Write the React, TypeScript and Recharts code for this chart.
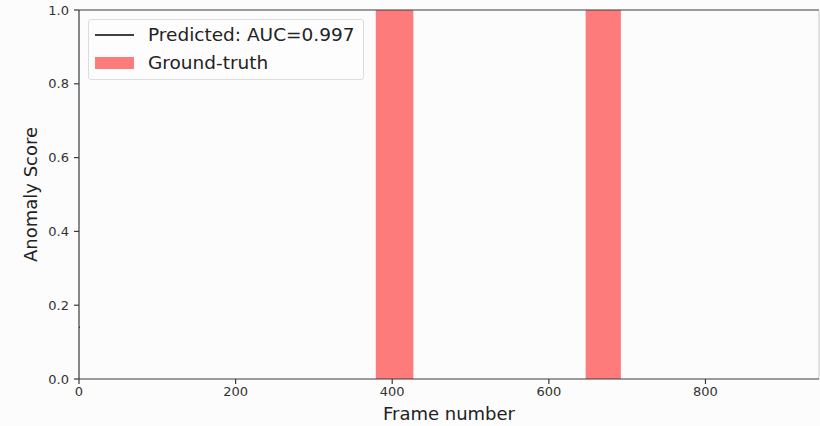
import React from 'react';
import { ComposedChart, XAxis, YAxis, Line, ReferenceArea, ReferenceLine } from 'recharts';

const xTicks = [0, 200, 400, 600, 800];
const yTicks = [0, 0.2, 0.4, 0.6, 0.8, 1.0];
const frameMax = 945;
const gtStarts = [379, 647];
const gtEnds = [427, 692];
const predictedFrames = [0, 1];
const predictedScores = [0.14, 0.14];
const aucLabel = 'Predicted: AUC=0.997';
const gtLabel = 'Ground-truth';

const predicted = predictedFrames.map((f, i) => ({ frame: f, score: predictedScores[i] }));

const FONT = '"DejaVu Sans", sans-serif';
const SPINE = '#3a3a3a';

const LegendBox = () => (
  <div
    style={{
      position: 'absolute',
      left: 88,
      top: 19,
      width: 274,
      height: 59,
      border: '1px solid #dcdcdc',
      borderRadius: 3,
      background: '#fdfdfd',
      fontFamily: FONT,
      fontSize: 18.5,
      color: '#222',
    }}
  >
    <svg width={60} height={59} style={{ position: 'absolute', left: 0, top: 0 }}>
      <line x1={6} x2={45} y1={15} y2={15} stroke="#000" strokeWidth={1.6} />
      <rect x={6} y={37} width={39} height={12} fill="#fe7b7b" />
    </svg>
    <div style={{ position: 'absolute', left: 59, top: 3, lineHeight: '24px', whiteSpace: 'nowrap' }}>{aucLabel}</div>
    <div style={{ position: 'absolute', left: 59, top: 31, lineHeight: '24px', whiteSpace: 'nowrap' }}>{gtLabel}</div>
  </div>
);

export default function App() {
  return (
    <div style={{ position: 'absolute', left: 0, top: 0, width: 820, height: 426, background: '#fcfcfc' }}>
      <ComposedChart width={820} height={426} margin={{ top: 10, right: 1, bottom: 0, left: 0 }}>
        <XAxis
          dataKey="frame"
          type="number"
          domain={[0, frameMax]}
          ticks={xTicks}
          allowDataOverflow
          height={47}
          tickSize={5}
          tickMargin={3}
          stroke={SPINE}
          strokeWidth={1.2}
          tick={{ fontFamily: FONT, fontSize: 13, fill: '#333' }}
          label={(props: any) => {
            const vb = props.viewBox || {};
            return (
              <text
                x={vb.x + vb.width / 2}
                y={vb.y + 41}
                textAnchor="middle"
                fontFamily={FONT}
                fontSize={18}
                fill="#222"
              >
                Frame number
              </text>
            );
          }}
        />
        <YAxis
          type="number"
          domain={[0, 1]}
          ticks={yTicks}
          width={79}
          tickSize={5}
          tickMargin={5}
          stroke={SPINE}
          strokeWidth={1.2}
          tickFormatter={(v: number) => v.toFixed(1)}
          tick={{ fontFamily: FONT, fontSize: 13, fill: '#333' }}
          label={(props: any) => {
            const vb = props.viewBox || {};
            const cy = vb.y + vb.height / 2;
            return (
              <text
                x={37}
                y={cy}
                transform={`rotate(-90, 37, ${cy})`}
                textAnchor="middle"
                fontFamily={FONT}
                fontSize={18}
                fill="#222"
              >
                Anomaly Score
              </text>
            );
          }}
        />
        {gtStarts.map((s, i) => (
          <ReferenceArea
            key={i}
            x1={s}
            x2={gtEnds[i]}
            y1={0}
            y2={1}
            fill="#fe7b7b"
            fillOpacity={1}
            stroke="none"
          />
        ))}
        <ReferenceLine y={1} stroke={SPINE} strokeWidth={1.2} />
        <ReferenceLine x={frameMax} stroke="#c8c8c8" strokeWidth={1} />
        <Line
          data={predicted}
          dataKey="score"
          stroke="#000"
          strokeWidth={1.5}
          dot={false}
          isAnimationActive={false}
          legendType="none"
        />
      </ComposedChart>
      <LegendBox />
    </div>
  );
}
